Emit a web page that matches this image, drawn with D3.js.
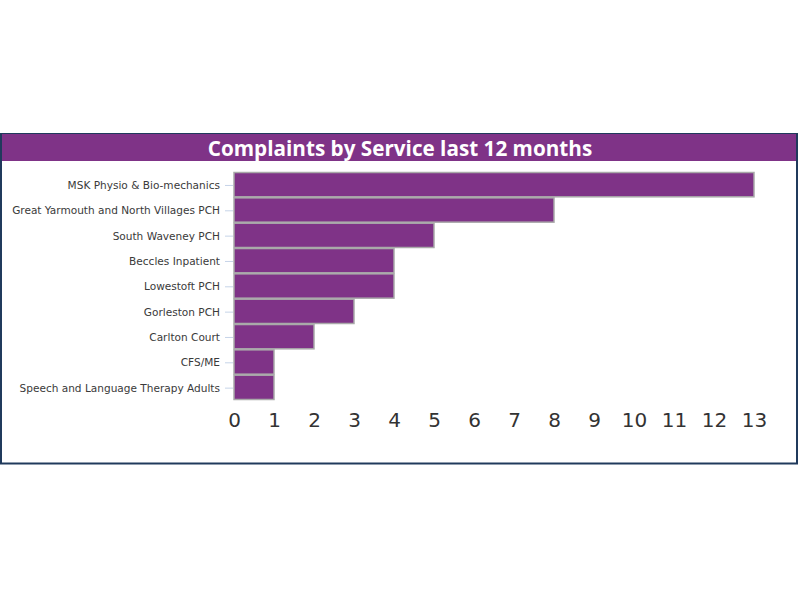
<!DOCTYPE html>
<html>
<head>
<meta charset="utf-8">
<script src="https://cdn.jsdelivr.net/npm/d3@7"></script>
<style>
  html, body { margin: 0; padding: 0; background: #fff; }
  svg { display: block; }
</style>
</head>
<body>
<svg id="chart" width="800" height="600"></svg>
<script>
const title = "Complaints by Service last 12 months";
const categories = [
  "MSK Physio & Bio-mechanics",
  "Great Yarmouth and North Villages PCH",
  "South Waveney PCH",
  "Beccles Inpatient",
  "Lowestoft PCH",
  "Gorleston PCH",
  "Carlton Court",
  "CFS/ME",
  "Speech and Language Therapy Adults"
];
const values = [13, 8, 5, 4, 4, 3, 2, 1, 1];
const xTicks = [0,1,2,3,4,5,6,7,8,9,10,11,12,13];

const svg = d3.select("#chart");

// panel
svg.append("rect")
  .attr("x", 1).attr("y", 134).attr("width", 796).attr("height", 329.5)
  .attr("fill", "#fff").attr("stroke", "#203a5c").attr("stroke-width", 2);

// title bar
svg.append("rect")
  .attr("x", 2).attr("y", 134).attr("width", 794).attr("height", 27)
  .attr("fill", "#7f3387");
svg.append("text")
  .attr("x", 400).attr("y", 155.5)
  .attr("text-anchor", "middle")
  .attr("fill", "#fff")
  .attr("font-family", "'Open Sans', sans-serif")
  .attr("font-weight", "bold")
  .attr("font-size", 20.7)
  .text(title);

const x = d3.scaleLinear().domain([0, 13]).range([234, 754]);
const y = d3.scaleBand().domain(categories).range([172, 400]).paddingInner(0.04).paddingOuter(0.02);

// bars
svg.append("g").selectAll("rect")
  .data(values)
  .join("rect")
  .attr("x", x(0))
  .attr("y", (d, i) => y(categories[i]))
  .attr("width", d => x(d) - x(0))
  .attr("height", y.bandwidth())
  .attr("fill", "#7f3387")
  .attr("stroke", "#a9a9a9")
  .attr("stroke-width", 1.5);

// y axis
const yAxis = svg.append("g")
  .attr("transform", `translate(${x(0) - 1},0.8)`)
  .call(d3.axisLeft(y).tickSize(8).tickPadding(5));
yAxis.select(".domain").remove();
yAxis.selectAll(".tick line").attr("stroke", "#c6d4e8");
yAxis.selectAll(".tick text")
  .attr("fill", "#3a3a3a")
  .attr("font-family", "'DejaVu Sans', Verdana, sans-serif")
  .attr("font-size", 10.55);

// x axis
const xAxis = svg.append("g")
  .attr("transform", "translate(0,405)")
  .call(d3.axisBottom(x).tickValues(xTicks).tickSize(0).tickPadding(8).tickFormat(d3.format("d")));
xAxis.select(".domain").remove();
xAxis.selectAll(".tick text")
  .attr("fill", "#333")
  .attr("font-family", "'DejaVu Sans', Verdana, sans-serif")
  .attr("font-size", 20);
</script>
</body>
</html>
